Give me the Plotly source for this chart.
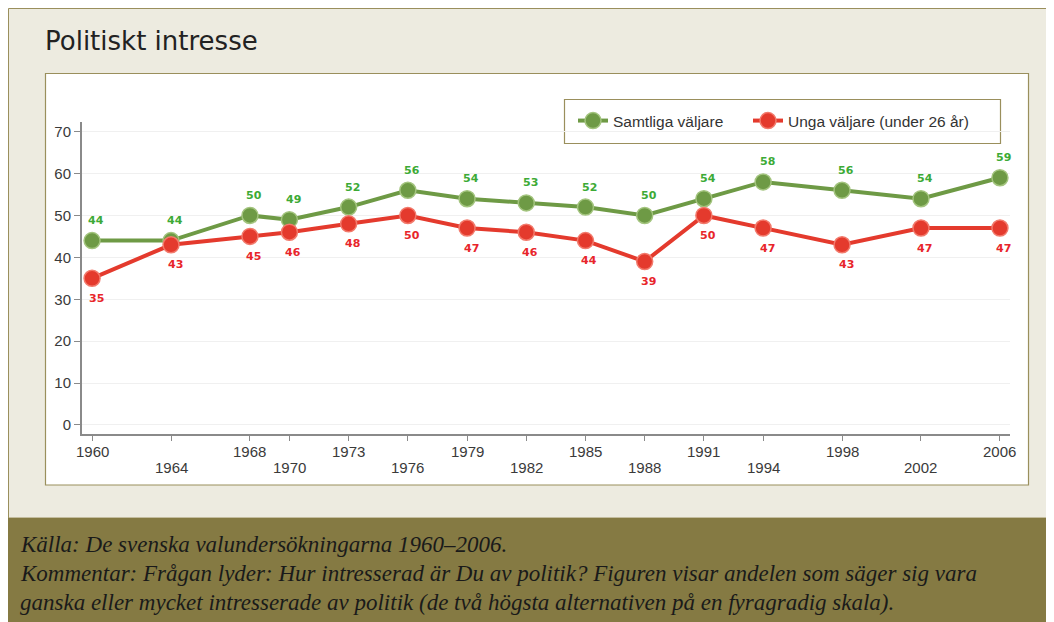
import plotly.graph_objects as go

# ---- data ----
years = [1960, 1964, 1968, 1970, 1973, 1976, 1979, 1982, 1985, 1988, 1991, 1994, 1998, 2002, 2006]
samtliga = [44, 44, 50, 49, 52, 56, 54, 53, 52, 50, 54, 58, 56, 54, 59]
unga = [35, 43, 45, 46, 48, 50, 47, 46, 44, 39, 50, 47, 43, 47, 47]
series_names = ["Samtliga väljare", "Unga väljare (under 26 år)"]
y_ticks = [0, 10, 20, 30, 40, 50, 60, 70]
title_text = "Politiskt intresse"
footer_lines = [
    "Källa: De svenska valundersökningarna 1960–2006.",
    "Kommentar: Frågan lyder: Hur intresserad är Du av politik? Figuren visar andelen som säger sig vara",
    "ganska eller mycket intresserade av politik (de två högsta alternativen på en fyragradig skala).",
]

# ---- layout geometry (page pixels; the page body adds an 8px margin) ----
OFF = 8
W_FIG, H_FIG = 1054 - OFF, 622 - OFF
L, R, T, B = 82, 1010, 122, 434
PW, PH = R - L, B - T


def px(x):
    return (x - L) / PW


def py(y):
    return (B - y) / PH


GREEN_LINE = "#6E9A45"
GREEN_EDGE = "#A3C47E"
GREEN_TEXT = "#3DAA36"
RED_LINE = "#E43A2D"
RED_EDGE = "#F27A6C"
RED_TEXT = "#E8252B"
OLIVE = "#9A8F5C"
BEIGE = "#EDEBE0"
FOOTER = "#857A43"
AXIS = "#8A8A8A"
TICKFONT = dict(family="Liberation Sans", size=15, color="#3A3A3A")
LEGENDFONT = dict(family="Liberation Sans", size=15.5, color="#333333")

fig = go.Figure()
fig.add_trace(go.Scatter(
    x=years, y=samtliga, name=series_names[0], mode="lines+markers", legend="legend",
    line=dict(color=GREEN_LINE, width=4),
    marker=dict(size=16, color=GREEN_LINE, line=dict(color=GREEN_EDGE, width=1.5)),
))
fig.add_trace(go.Scatter(
    x=years, y=unga, name=series_names[1], mode="lines+markers", legend="legend2",
    line=dict(color=RED_LINE, width=4),
    marker=dict(size=16, color=RED_LINE, line=dict(color=RED_EDGE, width=1.5)),
))

annotations = []
for x, v in zip(years, samtliga):
    annotations.append(dict(x=x, y=v, xref="x", yref="y", text=str(v), showarrow=False,
                            xshift=4, yshift=20,
                            font=dict(family="DejaVu Sans", size=11, color=GREEN_TEXT, weight="bold")))
for x, v in zip(years, unga):
    annotations.append(dict(x=x, y=v, xref="x", yref="y", text=str(v), showarrow=False,
                            xshift=4, yshift=-20,
                            font=dict(family="DejaVu Sans", size=11, color=RED_TEXT, weight="bold")))

# staggered x tick labels
for i, yr in enumerate(years):
    annotations.append(dict(x=yr, y=py(451 if i % 2 == 0 else 467), xref="x", yref="paper",
                            text=str(yr), showarrow=False, xanchor="center", yanchor="middle",
                            font=TICKFONT))

annotations.append(dict(x=px(43), y=py(41), xref="paper", yref="paper", text=title_text,
                        showarrow=False, xanchor="left", yanchor="middle",
                        font=dict(family="DejaVu Sans", size=26, color="#222222")))
for i, line in enumerate(footer_lines):
    annotations.append(dict(x=px(18), y=py(544 + 29 * i), xref="paper", yref="paper", text=line,
                            showarrow=False, xanchor="left", yanchor="middle",
                            font=dict(family="Liberation Serif", size=23, color="#1A1A1A", style="italic")))

shapes = [
    dict(type="rect", xref="paper", yref="paper", x0=px(8.5), x1=px(1053), y0=py(8.5), y1=py(518),
         fillcolor=BEIGE, line=dict(color=OLIVE, width=1), layer="below"),
    dict(type="rect", xref="paper", yref="paper", x0=px(3), x1=px(1060), y0=py(518), y1=py(640),
         fillcolor=FOOTER, line=dict(width=0), layer="below"),
    dict(type="rect", xref="paper", yref="paper", x0=px(45.5), x1=px(1028.5), y0=py(73.5), y1=py(485),
         fillcolor="white", line=dict(color=OLIVE, width=1.2), layer="below"),
    dict(type="rect", xref="paper", yref="paper", x0=px(564.5), x1=px(1000.5), y0=py(99.5), y1=py(143.5),
         fillcolor="white", line=dict(color=OLIVE, width=1.2), layer="below"),
]

legend_common = dict(orientation="h", xanchor="left", yanchor="middle",
                     bgcolor="rgba(0,0,0,0)", borderwidth=0, font=LEGENDFONT)

fig.update_layout(
    width=W_FIG, height=H_FIG,
    margin=dict(l=L - OFF, r=1054 - R, t=T - OFF, b=622 - B, pad=0),
    paper_bgcolor="white", plot_bgcolor="rgba(0,0,0,0)",
    font=dict(family="Liberation Sans", size=12, color="#333333"),
    showlegend=True,
    legend=dict(x=px(573), y=py(121), **legend_common),
    legend2=dict(x=px(748), y=py(121), **legend_common),
    annotations=annotations,
    shapes=shapes,
)
fig.update_xaxes(
    range=[1959.49, 2006.51], tickmode="array", tickvals=years, showticklabels=False,
    showline=True, linecolor=AXIS, linewidth=2, ticks="outside", ticklen=5,
    tickcolor=AXIS, tickwidth=1, showgrid=False, zeroline=False,
)
fig.update_yaxes(
    range=[-2.15, 72.3], tickmode="array", tickvals=y_ticks,
    showline=True, linecolor=AXIS, linewidth=2, ticks="outside", ticklen=6,
    tickcolor=AXIS, tickwidth=1, showgrid=True, gridcolor="#F0F0F0", gridwidth=1,
    zeroline=False, tickfont=TICKFONT,
)

fig.write_html("out.html")
